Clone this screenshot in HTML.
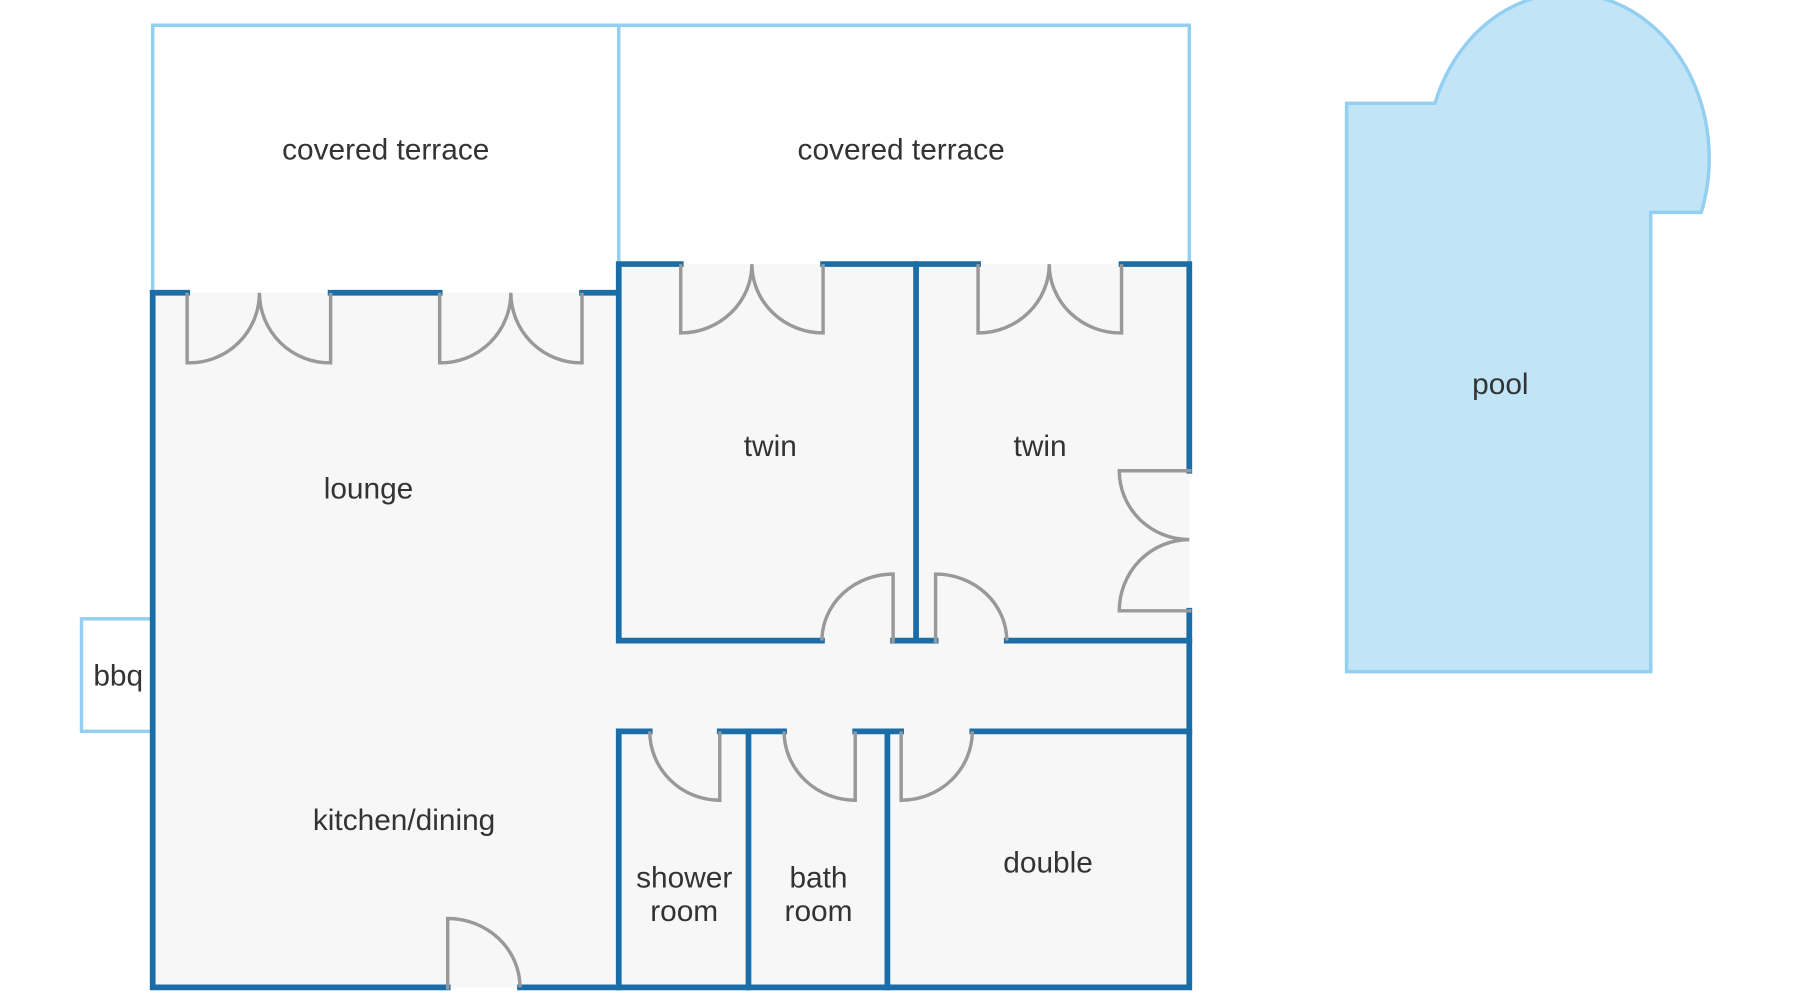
<!DOCTYPE html>
<html><head><meta charset="utf-8"><style>html,body{margin:0;padding:0;background:#fff}svg{display:block}</style></head>
<body>
<svg width="1800" height="1000" viewBox="0 0 1568 871" preserveAspectRatio="none" xmlns="http://www.w3.org/2000/svg">
<rect x="0" y="0" width="1568" height="871" fill="#fff"/>
<path d="M133,255 V22 H1036 V230 M539,22 V230" fill="none" stroke="#92cff0" stroke-width="3"/>
<rect x="71" y="539" width="62" height="98" fill="#fff" stroke="#92cff0" stroke-width="3"/>
<path d="M133,255 H539 V230 H1036 V860 H133 Z" fill="#f7f7f7"/>
<path d="M1173,90 H1250 A120 140 0 0 1 1482,185 H1438 V585 H1173 Z" fill="#c2e4f7" stroke="#92cff0" stroke-width="3"/>
<g fill="none" stroke="#1a6da6" stroke-width="5" stroke-linecap="square">
<path d="M133,255 V860 H390 M453,860 H1036 V532 M1036,410 V230 H977 M852,230 H717 M593,230 H539 V558 H716 M539,255 H507 M383,255 H288 M163,255 H133"/>
<path d="M798,230 V558 M778,558 H815 M877,558 H1036"/>
<path d="M539,860 V637 H566 M627,637 H683 M745,637 H785 M847,637 H1036"/>
<path d="M652,637 V860 M773,637 V860"/>
</g>
<g fill="none" stroke="#999" stroke-width="3">
<path d="M163,255 V316 A61 61 0 0 0 226,255 M288,255 V316 A61 61 0 0 1 226,255"/>
<path d="M383,255 V316 A61 61 0 0 0 445,255 M507,255 V316 A61 61 0 0 1 445,255"/>
<path d="M593,230 V290 A62 60 0 0 0 655,230 M717,230 V290 A62 60 0 0 1 655,230"/>
<path d="M852,230 V290 A62 60 0 0 0 914,230 M977,230 V290 A62 60 0 0 1 914,230"/>
<path d="M1038,410 H975 A61 60 0 0 0 1036,470 M1038,532 H975 A61 62 0 0 1 1036,470"/>
<path d="M778,560 V500 A62 58 0 0 0 716,558 M815,560 V500 A62 58 0 0 1 877,558"/>
<path d="M627,637 V697 A61 60 0 0 1 566,637 M745,637 V697 A62 60 0 0 1 683,637 M785,637 V697 A62 60 0 0 0 847,637"/>
<path d="M390,862 V800 A63 60 0 0 1 453,860"/>
</g>
<g font-family="Liberation Sans, sans-serif" font-size="26" fill="#333" text-anchor="middle">
<text x="336" y="139">covered terrace</text>
<text x="785" y="139">covered terrace</text>
<text x="321" y="434">lounge</text>
<text x="671" y="397">twin</text>
<text x="906" y="397">twin</text>
<text x="352" y="723">kitchen/dining</text>
<text x="596" y="773">shower</text>
<text x="596" y="802">room</text>
<text x="713" y="773">bath</text>
<text x="713" y="802">room</text>
<text x="913" y="760">double</text>
<text x="1307" y="343">pool</text>
<text x="103" y="597">bbq</text>
</g>
</svg>
</body></html>
